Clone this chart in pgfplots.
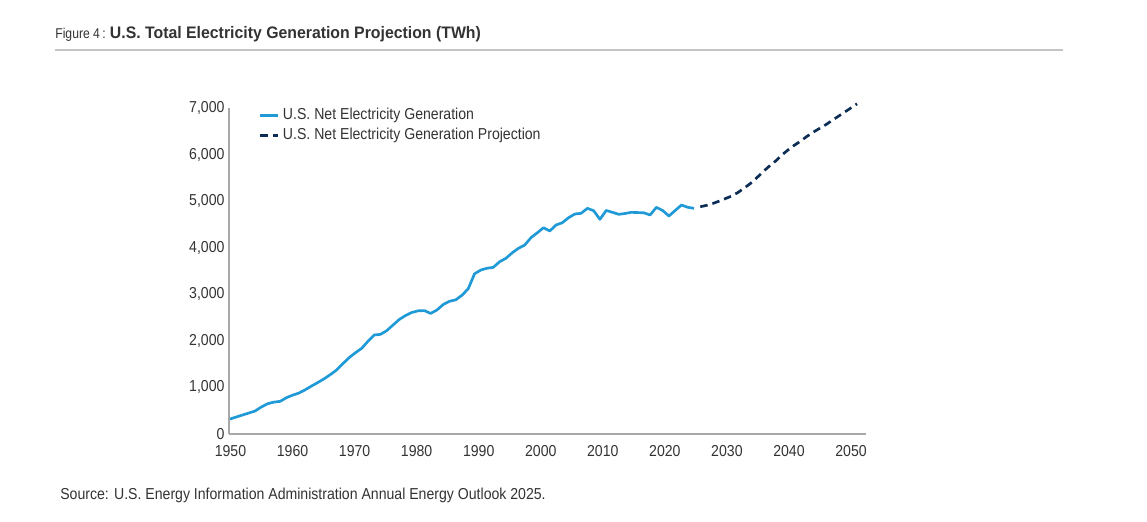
\documentclass[border=0pt]{standalone}
\usepackage{pgfplots}
\usepackage{pgfplotstable}
\pgfplotsset{compat=1.18}
\usepackage{fontspec}
\setmainfont{Liberation Sans}[FakeStretch=0.89]
\newfontfamily\titlefont{Liberation Sans}[FakeStretch=0.95]
\newfontfamily\figfont{Liberation Sans}[FakeStretch=0.86]

\definecolor{genblue}{HTML}{1F9AD6}
\definecolor{projnavy}{HTML}{0C2D55}
\definecolor{axisgray}{HTML}{A8A8A8}
\definecolor{rulegray}{HTML}{C4C4C4}
\definecolor{txtgray}{HTML}{333333}

% net generation, TWh
\pgfplotstableread{
year twh
1950 322
1951 365
1952 408
1953 450
1954 494
1955 580
1956 650
1957 685
1958 701
1959 780
1960 835
1961 880
1962 950
1963 1030
1964 1105
1965 1185
1966 1275
1967 1374
1968 1510
1969 1640
1970 1745
1971 1840
1972 1990
1973 2126
1974 2140
1975 2220
1976 2340
1977 2460
1978 2545
1979 2610
1980 2645
1981 2650
1982 2590
1983 2662
1984 2780
1985 2850
1986 2880
1987 2980
1988 3120
1989 3440
1990 3521
1991 3560
1992 3579
1993 3700
1994 3772
1995 3890
1996 3987
1997 4058
1998 4215
1999 4320
2000 4430
2001 4359
2002 4488
2003 4537
2004 4645
2005 4724
2006 4739
2007 4846
2008 4795
2009 4610
2010 4800
2011 4760
2012 4717
2013 4735
2014 4760
2015 4755
2016 4750
2017 4703
2018 4868
2019 4800
2020 4681
2021 4800
2022 4917
2023 4868
2024 4846
}\hist

% AEO2025 projection
\pgfplotstableread{
year twh
2025 4880
2026 4910
2027 4950
2028 5000
2029 5055
2030 5110
2031 5185
2032 5280
2033 5380
2034 5500
2035 5630
2036 5750
2037 5860
2038 5990
2039 6100
2040 6200
2041 6290
2042 6390
2043 6480
2044 6560
2045 6640
2046 6730
2047 6820
2048 6910
2049 7000
2050 7090
}\proj

\begin{document}
\begin{tikzpicture}
\begin{scope}[x=0.6pt,y=-0.6pt]
  \path[use as bounding box] (0,0) rectangle (1147,521);
  \draw[rulegray, line width=0.9pt] (55,50) -- (1063,50);
  \node[anchor=base west, inner sep=0, text=txtgray] at (55,38)
    {{\figfont\fontsize{8.5}{10}\selectfont Figure 4\,:}\hspace{2.5pt}{\titlefont\bfseries\fontsize{10}{12}\selectfont U.S. Total Electricity Generation Projection (TWh)}};
  \node[anchor=base west, inner sep=0, text=txtgray] at (60,499)
    {\fontsize{9.5}{11}\selectfont Source: U.S. Energy Information Administration Annual Energy Outlook 2025.};
\end{scope}

\begin{axis}[
  at={(137.4pt,-260.4pt)}, anchor=south west,
  scale only axis, width=382.2pt, height=195.6pt,
  xmin=1949.84, xmax=2051.43, ymin=0, ymax=7000,
  axis x line*=bottom, axis y line*=left,
  axis line style={-, draw=axisgray, line width=0.8pt},
  tick style={draw=none},
  xtick={1950.08,1959.98,1969.87,1979.77,1989.67,1999.56,2009.46,2019.35,2029.25,2039.15,2049.04},
  xticklabels={1950,1960,1970,1980,1990,2000,2010,2020,2030,2040,2050},
  ytick={0,1000,...,7000},
  scaled y ticks=false,
  /pgf/number format/1000 sep={,},
  /pgf/number format/assume math mode=true,
  tick label style={font=\fontsize{9.5}{11}\selectfont, text=txtgray},
  xticklabel style={yshift=-3.6pt},
  yticklabel style={xshift=0.8pt},
  legend style={at={(0.0465,1.006)}, anchor=north west, draw=none, fill=none,
    inner sep=0pt, font=\fontsize{9.5}{11}\selectfont, text=txtgray,
    nodes={text height=7pt, text depth=2pt, inner sep=1pt},
    row sep=1pt, column sep=1.2pt},
  legend cell align=left,
  legend image code/.code={\draw[#1] (0pt,0pt) -- (10.6pt,0pt);},
  clip=false,
]
\addplot[genblue, line width=1.6pt, line join=round] table[x=year, y=twh] {\hist};
\addlegendentry{U.S. Net Electricity Generation}
\addplot[projnavy, line width=1.6pt, dash pattern=on 4.5pt off 3pt] table[x=year, y=twh] {\proj};
\addlegendentry{U.S. Net Electricity Generation Projection}
\end{axis}
\end{tikzpicture}
\end{document}
